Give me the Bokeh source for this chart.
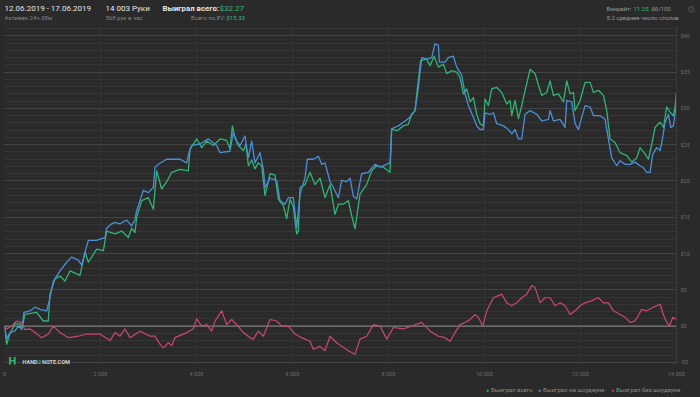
from bokeh.plotting import figure
from bokeh.layouts import column
from bokeh.models import Range1d, FixedTicker, Span, Label, GlobalInlineStyleSheet
from bokeh.embed import file_html
from bokeh.resources import INLINE

# ---------------- data ----------------
hands_total = [0, 45, 115, 219, 323, 358, 427, 670, 809, 913, 948, 1052, 1157, 1261, 1365, 1573, 1678, 1747,
               1921, 2060, 2129, 2303, 2442, 2581, 2650, 2720, 2754, 2859, 2997, 3102, 3171, 3275, 3380, 3484,
               3657, 3831, 3866, 4005, 4109, 4213, 4352, 4491, 4630, 4699, 4748, 4803, 4873, 4977, 5032, 5081,
               5151, 5220, 5289, 5359, 5428, 5533, 5637, 5706, 5811, 5880, 5950, 6019, 6088, 6123, 6158, 6262,
               6366, 6470, 6575, 6679, 6783, 6887, 6957, 7061, 7165, 7235, 7304, 7408, 7547, 7651, 7756, 7895,
               8034, 8068, 8173, 8312, 8416, 8485, 8555, 8603, 8673, 8798, 8867, 8951, 9041, 9145, 9215, 9319,
               9423, 9492, 9562, 9632, 9701, 9771, 9840, 9910, 9979, 10014, 10083, 10153, 10257, 10361, 10466,
               10535, 10570, 10639, 10709, 10778, 10848, 10952, 11056, 11126, 11195, 11299, 11369, 11438, 11542,
               11647, 11716, 11786, 11855, 11890, 11994, 12098, 12202, 12272, 12376, 12480, 12550, 12619, 12723,
               12828, 12967, 13071, 13175, 13244, 13349, 13418, 13488, 13557, 13661, 13731, 13800, 13870, 13939,
               13974, 14003]
won_total = [0, -2.5, -1.0, 0.3, 0.3, -0.5, 1.6, 1.9, 0.7, 0.7, 4.4, 6.5, 6.9, 6.2, 7.6, 7.0, 10.2, 8.8,
             10.6, 10.4, 13.1, 12.7, 13.1, 12.2, 13.5, 12.9, 15.0, 17.3, 17.7, 16.1, 21.4, 18.9, 19.9, 21.2,
             21.6, 21.4, 24.4, 25.8, 24.6, 25.5, 24.9, 25.8, 25.6, 24.4, 27.6, 25.9, 24.9, 24.2, 25.1, 22.1,
             22.9, 21.7, 22.5, 22.1, 18.0, 21.0, 20.8, 17.5, 16.6, 14.8, 17.5, 16.4, 12.7, 13.1, 19.1, 19.5,
             21.2, 19.5, 20.4, 17.7, 19.5, 15.4, 16.8, 16.8, 17.3, 15.2, 13.4, 18.2, 19.5, 21.4, 22.1, 21.9,
             21.2, 27.2, 26.9, 27.6, 27.8, 29.2, 29.7, 32.7, 36.6, 36.8, 35.9, 37.2, 35.7, 36.1, 34.8, 35.2,
             35.0, 34.3, 32.0, 32.7, 30.9, 31.5, 29.2, 27.9, 27.6, 31.3, 30.4, 32.7, 32.9, 32.2, 30.6,
             31.1, 29.0, 31.1, 28.6, 30.4, 32.5, 35.4, 34.8, 33.2, 31.8, 32.2, 33.8, 31.8, 32.0,
             30.9, 33.8, 32.0, 32.2, 29.7, 31.1, 33.6, 33.6, 32.2, 32.5, 31.8, 29.7, 25.8, 25.3,
             23.9, 23.5, 22.6, 23.2, 24.6, 23.7, 23.0, 25.1, 27.4, 28.1, 27.4, 30.2, 29.5, 29.0,
             30.2, 32.27]

hands_sd = [0, 45, 115, 219, 288, 358, 406, 531, 635, 740, 879, 948, 1017, 1157, 1296, 1400, 1539, 1608,
            1678, 1747, 1921, 1990, 2094, 2129, 2233, 2303, 2407, 2546, 2650, 2720, 2754, 2893, 2997, 3102,
            3136, 3206, 3380, 3657, 3796, 3852, 3900, 4074, 4248, 4421, 4491, 4699, 4768, 4838, 4907, 5012,
            5081, 5151, 5220, 5324, 5394, 5428, 5533, 5672, 5741, 5845, 5915, 6019, 6088, 6158, 6262, 6311,
            6436, 6540, 6609, 6679, 6783, 6853, 6957, 7026, 7130, 7200, 7269, 7339, 7443, 7582, 7721, 7825,
            7964, 8034, 8068, 8207, 8312, 8450, 8555, 8624, 8694, 8798, 8902, 8971, 9041, 9062, 9180, 9249,
            9353, 9423, 9527, 9597, 9667, 9771, 9840, 9910, 9979, 10014, 10118, 10188, 10257, 10396, 10500,
            10570, 10639, 10709, 10778, 10848, 10952, 11091, 11195, 11334, 11369, 11438, 11577, 11681, 11716,
            11820, 11890, 11959, 12029, 12098, 12202, 12272, 12411, 12515, 12584, 12654, 12758, 12828, 12932,
            13036, 13140, 13244, 13300, 13383, 13453, 13508, 13592, 13661, 13696, 13765, 13835, 13884, 13939,
            14003]
won_sd = [0, -1.8, -0.9, -0.65, 0, -0.4, 1.9, 2.1, 2.6, 2.3, 2.1, 3.9, 6.2, 7.6, 8.8, 9.5, 9.1, 8.4,
          10.2, 11.8, 11.8, 12.0, 12.2, 13.5, 14.1, 14.3, 14.1, 14.6, 13.8, 14.7, 15.9, 18.7, 18.4, 19.1,
          21.9, 22.3, 23.0, 23.0, 22.5, 24.1, 24.9, 25.1, 25.8, 24.9, 23.9, 24.1, 26.7, 25.5, 24.9, 26.2,
          23.2, 25.5, 22.5, 23.9, 21.6, 19.1, 20.4, 20.1, 17.3, 16.8, 17.7, 17.7, 13.6, 18.2, 20.4, 23.0,
          23.0, 23.4, 22.3, 22.5, 19.9, 19.1, 17.7, 20.1, 19.9, 20.4, 17.9, 17.5, 21.0, 21.2, 22.3, 21.9,
          22.3, 22.5, 27.2, 27.6, 28.1, 28.8, 29.7, 32.9, 37.0, 36.8, 37.0, 38.9, 38.7, 36.4, 36.4, 37.0,
          37.2, 35.7, 34.6, 32.0, 30.4, 28.8, 27.6, 27.1, 27.1, 29.4, 29.2, 29.4, 27.9, 27.6, 27.1,
          26.5, 27.1, 25.8, 25.8, 29.2, 29.7, 29.2, 28.3, 28.5, 29.7, 28.3, 28.5, 27.4, 31.1,
          30.9, 27.9, 27.1, 28.8, 30.4, 30.2, 29.0, 29.0, 28.5, 25.8, 23.2, 22.1, 22.8, 22.3,
          22.3, 22.6, 22.1, 21.9, 21.2, 21.2, 23.7, 24.6, 24.2, 25.3, 28.1, 29.2, 27.4, 27.6,
          30.9]

hands_nsd = [0, 45, 150, 254, 358, 427, 531, 635, 775, 913, 1017, 1157, 1330, 1539, 1712, 1990, 2199, 2303,
             2407, 2511, 2616, 2824, 3032, 3136, 3240, 3310, 3414, 3484, 3553, 3796, 3935, 4005, 4109, 4213,
             4317, 4387, 4526, 4630, 4734, 4838, 4977, 5116, 5185, 5289, 5394, 5533, 5672, 5776, 5915, 6054,
             6193, 6366, 6436, 6575, 6679, 6783, 6922, 7026, 7165, 7304, 7408, 7547, 7686, 7825, 7964, 8103,
             8312, 8485, 8694, 8867, 9041, 9180, 9284, 9388, 9492, 9597, 9701, 9806, 9875, 9965, 10049,
             10188, 10292, 10361, 10466, 10570, 10674, 10778, 10882, 10987, 11056, 11160, 11264, 11369,
             11473, 11577, 11681, 11786, 11890, 11994, 12098, 12237, 12376, 12480, 12584, 12689, 12828,
             12932, 13036, 13140, 13279, 13383, 13488, 13592, 13661, 13717, 13786, 13856, 13925, 14003]
won_nsd = [0, -0.4, 0, 0.7, 0.5, -0.5, -0.4, -0.9, -1.6, -1.1, 0, -0.9, -1.6, -1.4, -1.1, -1.1, -2.0, -0.9,
           -1.4, -0.4, -1.6, -0.7, -1.4, -1.4, -2.5, -3.0, -2.3, -2.7, -1.6, -0.9, -0.4, 1.0, 0, 0.2,
           -0.7, 0.7, 2.1, 0.2, 0.9, 0.2, -0.9, -1.6, -1.8, -0.7, -1.4, 0.9, 0.7, 0, 0, -1.1,
           -1.6, -2.1, -3.2, -2.8, -3.4, -1.4, -2.3, -2.8, -3.4, -3.9, -1.8, -1.4, 0.2, 0, -1.8, -0.2,
           -0.4, 0, 0.5, -0.7, -1.4, -1.6, -2.1, -0.9, 0.2, 0.5, 0.9, 1.6, 1.2, 0, 2.1,
           3.9, 4.2, 4.4, 3.2, 2.8, 3.2, 3.9, 4.4, 5.6, 5.3, 3.2, 3.9, 3.9,
           2.8, 3.2, 2.8, 1.6, 2.1, 2.8, 3.2, 3.5, 3.9, 3.2, 3.2, 2.1, 1.6,
           1.2, 0.5, 0.7, 2.3, 2.1, 2.5, 2.8, 3.0, 1.8, 0.7, 0, 1.2, 0.9]

series_names = ["Выиграл всего", "Выиграл на шоудауне", "Выиграл без шоудауна"]
series_colors = ["#2fb574", "#4a8fd8", "#cc4679"]

x_ticks = [0, 2000, 4000, 6000, 8000, 10000, 12000, 14000]
x_tick_labels = ["0", "2 000", "4 000", "6 000", "8 000", "10 000", "12 000", "14 000"]
y_ticks = [-5, 0, 5, 10, 15, 20, 25, 30, 35, 40]
y_tick_labels = ["-$5", "$0", "$5", "$10", "$15", "$20", "$25", "$30", "$35", "$40"]
y_minor = list(range(-5, 42))

# ---------------- styling constants ----------------
BG = "#2a2a2a"
FONT = "Roboto"
GREEN = "#36b77a"
W = 700
HEAD_H, FOOT_H = 26, 17
CHART_H = 397 - HEAD_H - FOOT_H
FL, FB = 4, 364  # plot frame left / bottom on the page


def strip(height, y_top):
    f = figure(width=W, height=height, output_backend="svg", toolbar_location=None,
               x_range=Range1d(0, W), y_range=Range1d(y_top + height, y_top),
               x_axis_type=None, y_axis_type=None, frame_align=False,
               min_border_left=0, min_border_right=0, min_border_top=0, min_border_bottom=0,
               background_fill_color=BG, border_fill_color=BG, outline_line_color=None)
    f.xgrid.visible = False
    f.ygrid.visible = False
    return f


def add_text(f, x, y, text, size, color, style="normal", align="left", font=FONT, units="data"):
    f.add_layout(Label(x=x, y=y, x_units=units, y_units=units, text=text, text_font=font,
                       text_font_size=size, text_color=color, text_font_style=style,
                       text_align=align, text_baseline="middle"))


# ---------------- header ----------------
head = strip(HEAD_H, 0)
head.stylesheets = [GlobalInlineStyleSheet(css="body{margin:0;background:%s;overflow:hidden;}" % BG)]
add_text(head, 4, 8, "12.06.2019 - 17.06.2019", "8px", "#e6e6e6")
add_text(head, 4, 17, "Активен 24ч 38м", "6px", "#858585")
add_text(head, 105, 8, "14 003 Руки", "8px", "#e6e6e6")
add_text(head, 105, 17, "568 рук в час", "6px", "#858585")
add_text(head, 162, 8, "Выиграл всего:", "7.8px", "#e6e6e6", "bold")
add_text(head, 219, 8, "$32.27", "8px", GREEN)
add_text(head, 225, 17, "Всего по EV:", "6px", "#858585", align="right")
add_text(head, 226, 17, "$15.33", "6px", GREEN)
add_text(head, 606, 8, "Винрейт:", "6px", "#9a9a9a")
add_text(head, 633, 8, "11.25", "6px", GREEN)
add_text(head, 651, 8, "бб/100", "6px", "#9a9a9a")
add_text(head, 606, 17, "5.2 среднее число столов", "6px", "#9a9a9a")
add_text(head, 691, 9, "⚙", "10px", "#4e4e4e", align="center", font="DejaVu Sans")

# ---------------- chart ----------------
chart = figure(width=W, height=CHART_H, output_backend="svg", toolbar_location=None,
               x_range=Range1d(0, 14003), y_range=Range1d(-5.3, 41.3),
               y_axis_location="right", frame_align=False,
               min_border_left=FL, min_border_right=24, min_border_top=0,
               min_border_bottom=CHART_H - (FB - HEAD_H),
               background_fill_color=BG, border_fill_color=BG, outline_line_color=None)

for ax in (chart.xaxis[0], chart.yaxis[0]):
    ax.major_tick_line_color = None
    ax.minor_tick_line_color = None
    ax.major_tick_out = 0
    ax.major_tick_in = 0
    ax.minor_tick_out = 0
    ax.minor_tick_in = 0
    ax.major_label_text_color = "#6e6e6e"
    ax.major_label_text_font = FONT
    ax.major_label_text_font_size = "5.5px"

xa = chart.xaxis[0]
xa.ticker = FixedTicker(ticks=x_ticks)
xa.major_label_overrides = {t: l for t, l in zip(x_ticks, x_tick_labels)}
xa.axis_line_color = None
xa.major_label_standoff = 6

ya = chart.yaxis[0]
ya.ticker = FixedTicker(ticks=y_ticks, minor_ticks=y_minor)
ya.major_label_overrides = {t: l for t, l in zip(y_ticks, y_tick_labels)}
ya.axis_line_color = "#3c3c3c"
ya.major_label_standoff = 4

chart.xgrid.ticker = FixedTicker(ticks=x_ticks)
chart.xgrid.grid_line_color = "#333333"
chart.ygrid.ticker = FixedTicker(ticks=y_ticks, minor_ticks=y_minor)
chart.ygrid.grid_line_color = "#444444"
chart.ygrid.minor_grid_line_color = "#353535"

chart.add_layout(Span(location=0, dimension="width", line_color="#8a8a8a", line_width=1, level="underlay"))

chart.line(hands_total, won_total, line_color=series_colors[0], line_width=1.3, line_join="round")
chart.line(hands_sd, won_sd, line_color=series_colors[1], line_width=1.3, line_join="round")
chart.line(hands_nsd, won_nsd, line_color=series_colors[2], line_width=1.2, line_join="round")

# logo (inside the frame, screen units from frame bottom-left)
add_text(chart, 8 - FL, FB - 361, "H", "11px", GREEN, "bold", units="screen")
add_text(chart, 22 - FL, FB - 361, "HAND", "5.5px", "#cfcfcf", "bold", units="screen")
add_text(chart, 37.5 - FL, FB - 361, "2", "5.5px", GREEN, "bold", units="screen")
add_text(chart, 41.5 - FL, FB - 361, "NOTE.COM", "5.5px", "#cfcfcf", "bold", units="screen")

# ---------------- footer legend ----------------
foot = strip(FOOT_H, 397 - FOOT_H)
leg_x = [487, 539, 612]
for lx, name, c in zip(leg_x, series_names, series_colors):
    add_text(foot, lx, 389, "●", "5px", c, align="center")
    add_text(foot, lx + 3.5, 389, name, "6px", "#8a8a8a")

p = column(head, chart, foot, spacing=0)
open("out.html", "w").write(file_html(p, INLINE))
